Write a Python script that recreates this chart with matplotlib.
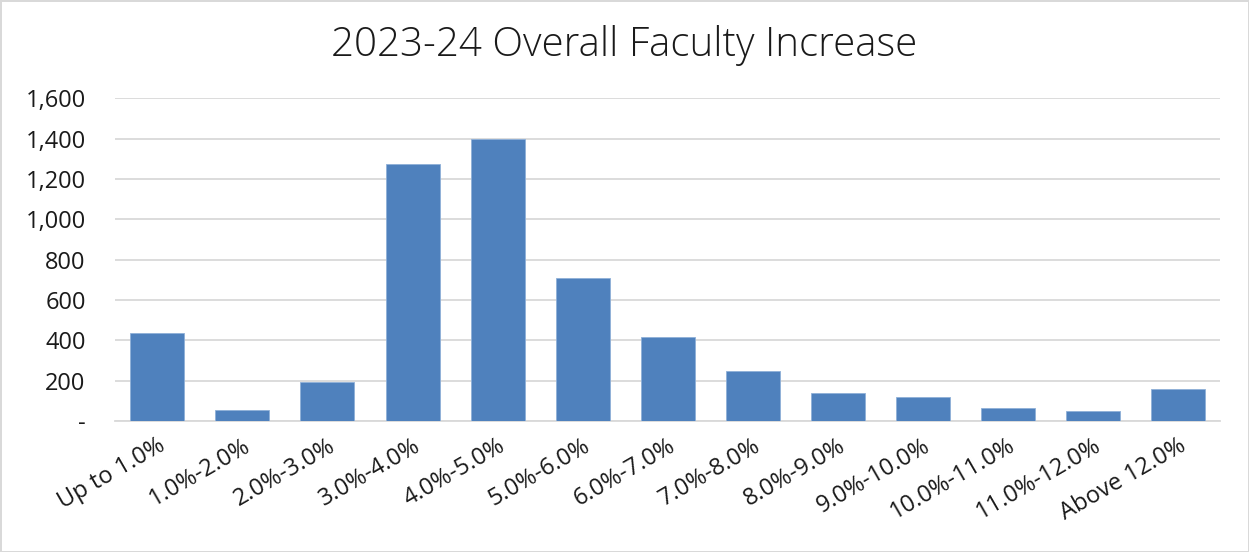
# 2023-24 overall faculty increase distribution
import matplotlib
matplotlib.use("Agg")
import matplotlib.pyplot as plt
from matplotlib.ticker import FuncFormatter, MultipleLocator

plt.rcParams['font.family'] = ['Open Sans', 'DejaVu Sans']

# Data
categories = ["Up to 1.0%", "1.0%-2.0%", "2.0%-3.0%", "3.0%-4.0%", "4.0%-5.0%",
              "5.0%-6.0%", "6.0%-7.0%", "7.0%-8.0%", "8.0%-9.0%", "9.0%-10.0%",
              "10.0%-11.0%", "11.0%-12.0%", "Above 12.0%"]
counts = [436, 54, 193, 1273, 1397, 708, 416, 248, 139, 119, 64, 50, 158]

fig = plt.figure(figsize=(12.49, 5.52), dpi=100)
fig.patch.set_edgecolor("#d9d9d9")
fig.patch.set_linewidth(2)
ax = fig.add_axes([0.092, 0.237, 0.885, 0.585])

x = range(len(categories))
ax.bar(x, counts, width=0.635, color="#4F81BD", edgecolor="#8fb0d8", linewidth=0.6, zorder=3)

ax.set_xlim(-0.5, len(categories) - 0.5)
ax.set_ylim(0, 1600)
ax.yaxis.set_major_locator(MultipleLocator(200))
ax.yaxis.set_major_formatter(FuncFormatter(lambda v, p: "-" if v == 0 else f"{int(v):,}"))
ax.grid(axis="y", color="#d9d9d9", linewidth=1.3, zorder=0)

for s in ["top", "right", "left"]:
    ax.spines[s].set_visible(False)
ax.spines["bottom"].set_color("#d9d9d9")
ax.spines["bottom"].set_linewidth(1.3)
ax.tick_params(axis="both", length=0, labelsize=17, colors="#1a1a1a", pad=9)
ax.tick_params(axis="y", pad=21)

ax.set_xticks(list(x))
ax.set_xticklabels(categories, rotation=30, ha="right", rotation_mode="anchor")

fig.suptitle("2023-24 Overall Faculty Increase", fontsize=29, color="#1a1a1a",
             fontweight="light", y=0.955)

plt.savefig("out.png", dpi=100)
